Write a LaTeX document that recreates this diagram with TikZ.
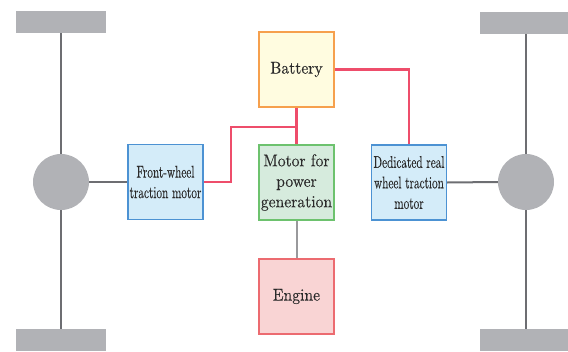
\documentclass[tikz,border=0pt]{standalone}
\usepackage{fontspec}
\usepackage{graphicx}
\newfontfamily\boxfont{lmroman10-regular.otf}[FakeBold=0.2]
\definecolor{wheelgray}{HTML}{B1B2B6}
\definecolor{axlegray}{HTML}{6D6E72}
\definecolor{redline}{HTML}{EE4D6B}
\definecolor{batfill}{HTML}{FFFCE0}
\definecolor{batdraw}{HTML}{F6A04D}
\definecolor{gfill}{HTML}{D6EBDD}
\definecolor{gdraw}{HTML}{6DC26E}
\definecolor{bfill}{HTML}{D4ECF9}
\definecolor{bdraw}{HTML}{4C92D3}
\definecolor{efill}{HTML}{F9D4D4}
\definecolor{edraw}{HTML}{EC6B70}
\definecolor{txt}{HTML}{2A2A2A}
\newcommand{\nrm}[1]{\scalebox{0.92}[1]{#1}}
\newcommand{\cond}[1]{\scalebox{0.66}[1]{#1}}
\tikzset{
  box/.style={rectangle, minimum width=75pt, minimum height=75pt, line width=1.3pt, inner sep=0pt, align=center, text=txt, font=\boxfont\fontsize{17}{20.5}\selectfont},
  batbox/.style={box, fill=batfill, draw=batdraw},
  genbox/.style={box, fill=gfill, draw=gdraw},
  motbox/.style={box, fill=bfill, draw=bdraw},
  engbox/.style={box, fill=efill, draw=edraw},
  wheel/.style={circle, fill=wheelgray, minimum size=56pt, inner sep=0pt},
  tyre/.style={rectangle, fill=wheelgray, inner sep=0pt},
  axle/.style={draw=axlegray, line width=2pt},
  power/.style={draw=redline, line width=2.6pt},
}
\begin{document}
\begin{tikzpicture}[x=1pt,y=-1pt]
\useasboundingbox (0,0) rectangle (568,351);
% wheels
\node[tyre, minimum width=90pt, minimum height=22pt] (lt) at (61,22) {};
\node[tyre, minimum width=90pt, minimum height=22pt] (lb) at (61,340) {};
\node[tyre, minimum width=88pt, minimum height=22pt] (rt) at (524,23) {};
\node[tyre, minimum width=88pt, minimum height=22pt] (rb) at (524,340) {};
\node[wheel] (lw) at (61,182) {};
\node[wheel] (rw) at (526,182) {};
% boxes
\node[batbox] (bat) at (296.5,69.5) {\nrm{Battery}};
\node[genbox] (gen) at (296.5,182.5) {\nrm{Motor for}\\\nrm{power}\\\nrm{generation}};
\node[motbox] (fw) at (165.5,182) {\cond{Front-wheel}\\\cond{traction motor}};
\node[motbox] (ded) at (409,182.5) {\cond{Dedicated real}\\\cond{wheel traction}\\\cond{motor}};
\node[engbox] (eng) at (296.5,296.5) {\nrm{Engine}};
% axles
\draw[axle] (lt.south) -- (lw.north);
\draw[axle] (lw.south) -- (lb.north);
\draw[axle] (rw.north) -- (rw.north |- rt.south);
\draw[axle] (rw.south) -- (rw.south |- rb.north);
\draw[axle] (lw.east) -- (fw.west);
\draw[axle] (ded.east) -- (rw.west);
\draw[draw=axlegray!70, line width=2pt] (gen.south) -- (eng.north);
% power lines
\coordinate (j) at (296.5,127);
\coordinate (k) at (231,127);
\draw[power] (bat.east) -| (ded.north);
\draw[power] (bat.south) -- (gen.north);
\draw[power, line join=miter] (j) -- (k) |- (fw.east);
\end{tikzpicture}
\end{document}
